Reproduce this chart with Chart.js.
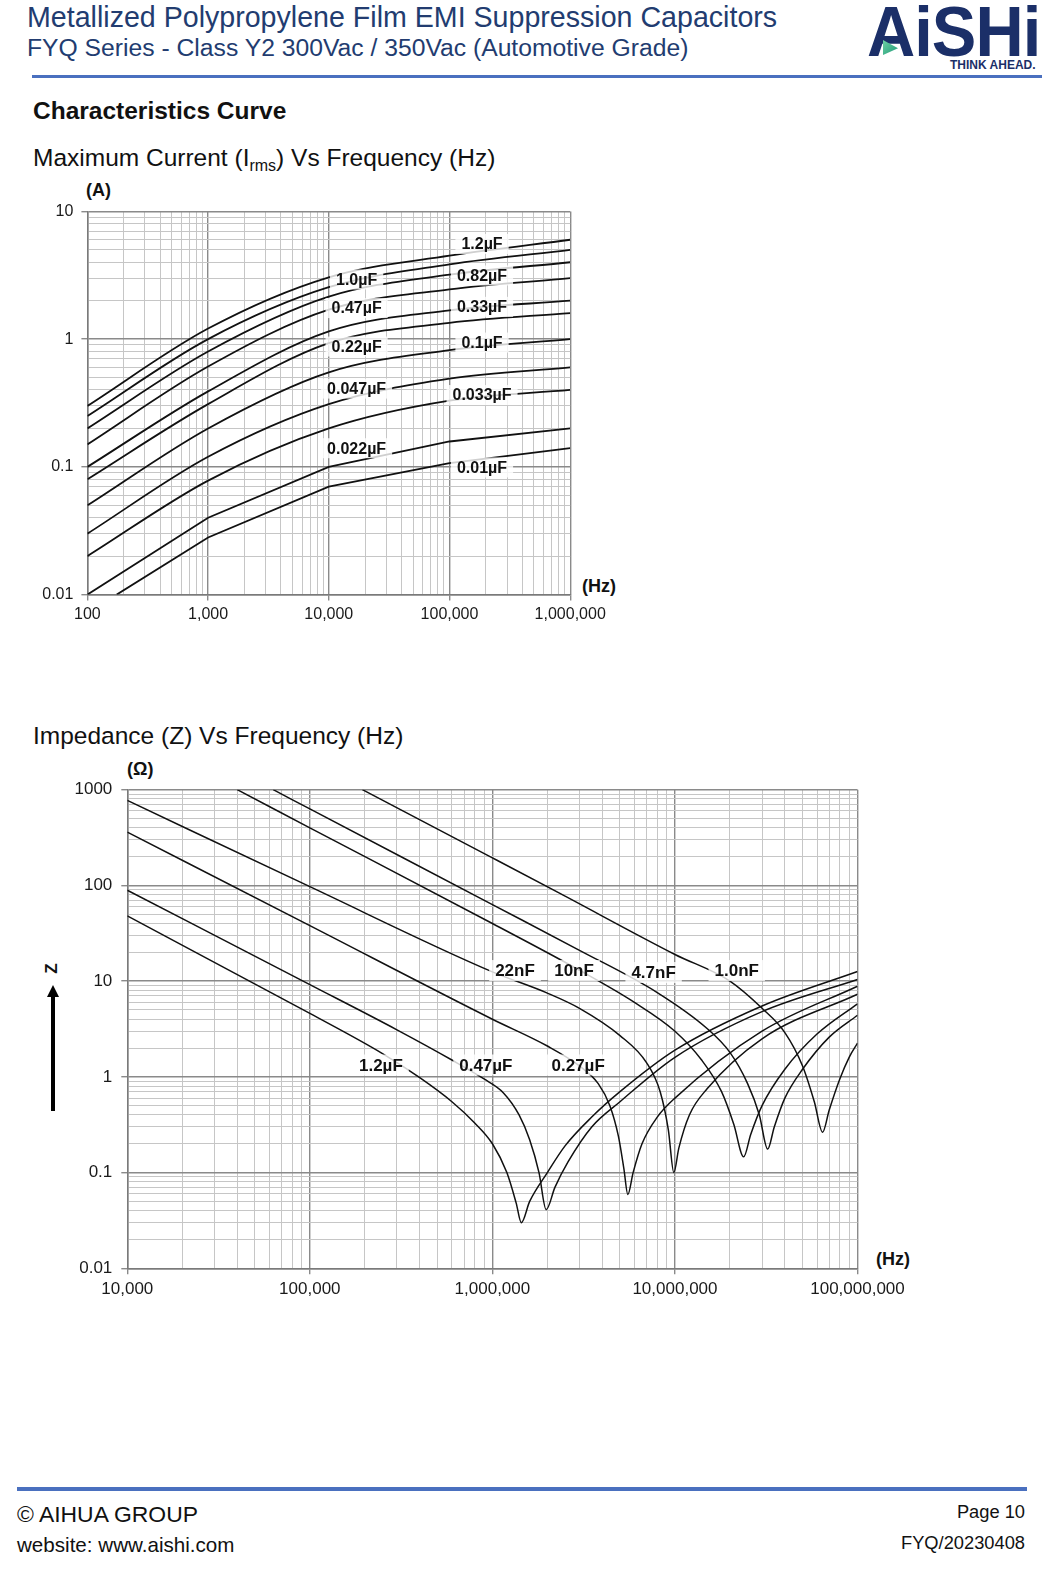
<!DOCTYPE html>
<html>
<head>
<meta charset="utf-8">
<script src="https://cdn.jsdelivr.net/npm/chart.js@4.4.1/dist/chart.umd.min.js"></script>
<style>
  html, body { margin: 0; padding: 0; background: #fff; }
  body { width: 1060px; height: 1594px; position: relative; overflow: hidden;
         font-family: "Liberation Sans", Arial, sans-serif; color: #111; }
  .t { position: absolute; white-space: nowrap; line-height: 1; }
  .rule { position: absolute; background: #4a70bf; }
  .chartbox { position: absolute; }
</style>
</head>
<body>

<!-- header -->
<div class="t" style="left:27px; top:3px; font-size:28.6px; color:#223c70;">Metallized Polypropylene Film EMI Suppression Capacitors</div>
<div class="t" style="left:27px; top:36px; font-size:24.7px; color:#223c70;">FYQ Series - Class Y2 300Vac / 350Vac (Automotive Grade)</div>
<div class="t" style="left:867px; top:-4px; font-size:71px; font-weight:bold; color:#1b2f68; transform:scaleX(0.94); transform-origin:left top; letter-spacing:-1px;">AiSHi</div>
<div style="position:absolute; left:883px; top:40px; width:15px; height:15px; background:linear-gradient(135deg,#6fd1a4,#1f9a78); clip-path:polygon(0 0,100% 55%,0 100%);"></div>
<div class="t" style="left:950px; top:59px; font-size:12px; font-weight:bold; color:#1b2f68;">THINK AHEAD.</div>
<div class="rule" style="left:32px; top:75px; width:1010px; height:3px;"></div>

<div class="t" style="left:33px; top:99px; font-size:24.5px; font-weight:bold;">Characteristics Curve</div>
<div class="t" style="left:33px; top:146px; font-size:24.5px;">Maximum Current (I<span style="font-size:16px; position:relative; top:5px;">rms</span>) Vs Frequency (Hz)</div>

<!-- chart 1 -->
<div class="t" style="left:86px; top:181px; font-size:18px; font-weight:bold;">(A)</div>
<div class="t" style="left:582px; top:577px; font-size:18px; font-weight:bold;">(Hz)</div>
<div class="chartbox" style="left:0; top:190px; width:640px; height:440px;"><canvas id="currentChart" width="640" height="440"></canvas></div>

<div class="t" style="left:33px; top:724px; font-size:24.5px;">Impedance (Z) Vs Frequency (Hz)</div>

<!-- chart 2 -->
<div class="t" style="left:127px; top:760px; font-size:18px; font-weight:bold;">(Ω)</div>
<div class="t" style="left:876px; top:1250px; font-size:18px; font-weight:bold;">(Hz)</div>
<div class="t" style="left:46px; top:960px; font-size:17px; font-weight:bold; transform:rotate(-90deg);">Z</div>
<div style="position:absolute; left:47px; top:985px; width:0; height:0; border-left:6px solid transparent; border-right:6px solid transparent; border-bottom:12px solid #000;"></div>
<div style="position:absolute; left:51px; top:995px; width:3.6px; height:116px; background:#000;"></div>
<div class="chartbox" style="left:0; top:760px; width:960px; height:560px;"><canvas id="impedanceChart" width="960" height="560"></canvas></div>

<!-- footer -->
<div class="rule" style="left:17px; top:1487px; width:1010px; height:3.5px;"></div>
<div class="t" style="left:17px; top:1503px; font-size:22.9px;">© AIHUA GROUP</div>
<div class="t" style="left:17px; top:1535px; font-size:20.6px;">website: www.aishi.com</div>
<div class="t" style="right:35px; top:1503px; font-size:18.3px;">Page 10</div>
<div class="t" style="right:35px; top:1534px; font-size:18.3px;">FYQ/20230408</div>

<script>
// ---- Maximum current vs frequency ----
const currentXTicks = [100, 1000, 10000, 100000, 1000000];
const currentXLabels = ['100', '1,000', '10,000', '100,000', '1,000,000'];
const currentYTicks = [0.01, 0.1, 1, 10];
const currentYLabels = ['0.01', '0.1', '1', '10'];

const currentFreq = [100, 1000, 10000, 100000, 1000000];
const currentFreq10n = [175, 1000, 10000, 100000, 1000000];
const current1u2 = [0.30, 1.21, 3.05, 4.5, 6.0];
const current1u0 = [0.25, 1.0, 2.55, 3.85, 5.0];
const current820n = [0.20, 0.80, 2.15, 3.2, 4.0];
const current470n = [0.15, 0.61, 1.70, 2.45, 3.0];
const current330n = [0.10, 0.39, 1.15, 1.68, 2.0];
const current220n = [0.08, 0.31, 0.93, 1.34, 1.6];
const current100n = [0.05, 0.20, 0.55, 0.82, 1.0];
const current47n = [0.03, 0.12, 0.31, 0.49, 0.60];
const current33n = [0.02, 0.078, 0.20, 0.33, 0.40];
const current22n = [0.01, 0.04, 0.10, 0.158, 0.20];
const current10n = [0.01, 0.028, 0.07, 0.107, 0.14];

const currentLabelText = ['1.2µF', '0.82µF', '0.33µF', '0.1µF', '0.033µF', '0.01µF',
                          '1.0µF', '0.47µF', '0.22µF', '0.047µF', '0.022µF'];
const currentLabelFreq = [186000, 186000, 186000, 186000, 186000, 186000,
                          17000, 17000, 17000, 17000, 17000];
const currentLabelAmp = [5.56, 3.15, 1.79, 0.94, 0.365, 0.099,
                         2.93, 1.75, 0.875, 0.41, 0.14];

// ---- Impedance vs frequency ----
const zXTicks = [1e4, 1e5, 1e6, 1e7, 1e8];
const zXLabels = ['10,000', '100,000', '1,000,000', '10,000,000', '100,000,000'];
const zYTicks = [0.01, 0.1, 1, 10, 100, 1000];
const zYLabels = ['0.01', '0.1', '1', '10', '100', '1000'];

const zFreq1u2 = [1e4, 1e5, 2.5e5, 4e5, 6e5, 8e5, 1e6, 1.2e6, 1.35e6, 1.44e6, 1.6e6, 2e6, 2.5e6, 3.5e6, 5e6, 1e7, 3e7, 1e8];
const z1u2 = [48, 4.6, 1.75, 0.98, 0.55, 0.33, 0.2, 0.1, 0.048, 0.03, 0.05, 0.1, 0.19, 0.38, 0.7, 1.9, 5.5, 12.6];
const zFreq470n = [1e4, 1e5, 3e5, 6e5, 9e5, 1.15e6, 1.4e6, 1.6e6, 1.8e6, 1.97e6, 2.2e6, 2.6e6, 3.5e6, 5e6, 1e7, 3e7, 1e8];
const z470n = [89, 9.2, 3.1, 1.5, 0.95, 0.68, 0.4, 0.22, 0.1, 0.041, 0.07, 0.13, 0.3, 0.55, 1.6, 4.8, 10.4];
const zFreq270n = [1e4, 1e5, 1e6, 2e6, 3e6, 3.8e6, 4.4e6, 4.9e6, 5.25e6, 5.52e6, 5.9e6, 6.6e6, 8e6, 1e7, 3e7, 1e8];
const z270n = [360, 38, 4.0, 2.1, 1.3, 0.85, 0.5, 0.24, 0.11, 0.059, 0.1, 0.2, 0.38, 0.6, 3.0, 8.85];
const zFreq22n = [1e4, 1e5, 1e6, 2e6, 3e6, 5e6, 7e6, 8.3e6, 9.2e6, 9.86e6, 1.05e7, 1.2e7, 1.5e7, 3e7, 1e8];
const z22n = [773, 97, 12.5, 7.5, 5.2, 2.7, 1.4, 0.7, 0.28, 0.1, 0.18, 0.4, 0.75, 2.5, 7.3];
const zFreq10n = [4e4, 1e5, 1e6, 3e6, 6e6, 1e7, 1.4e7, 1.8e7, 2.1e7, 2.38e7, 2.6e7, 3e7, 4e7, 6e7, 1e8];
const z10n = [1000, 400, 40, 13, 6, 3, 1.5, 0.7, 0.32, 0.146, 0.25, 0.5, 1.2, 2.8, 5.8];
const zFreq4n7 = [6.3e4, 1e5, 1e6, 3e6, 8e6, 1.5e7, 2e7, 2.5e7, 2.9e7, 3.22e7, 3.5e7, 4e7, 5e7, 7e7, 1e8];
const z4n7 = [1000, 630, 63, 21, 7.6, 3.2, 1.8, 0.85, 0.4, 0.176, 0.3, 0.6, 1.2, 2.6, 4.4];
const zFreq1n0 = [1.94e5, 1e6, 2.33e6, 1e7, 2e7, 3e7, 4e7, 5e7, 5.8e7, 6.44e7, 7e7, 8e7, 9e7, 1e8];
const z1n0 = [1000, 194, 83, 19, 10, 5.2, 2.9, 1.3, 0.55, 0.264, 0.45, 0.95, 1.6, 2.25];

const zLabelText = ['22nF', '10nF', '4.7nF', '1.0nF', '1.2µF', '0.47µF', '0.27µF'];
const zLabelFreq = [1.33e6, 2.8e6, 7.64e6, 2.18e7, 2.45e5, 9.21e5, 2.95e6];
const zLabelAmp = [12.9, 12.9, 12.3, 12.9, 1.33, 1.33, 1.33];

// ---- helpers ----
const MAJOR = '#8a8a8a';
const MINOR = '#c6c6c6';

function gridTicks(decades) {
  const list = [];
  decades.forEach((d, i) => {
    list.push({ value: d, major: true });
    if (i < decades.length - 1) {
      for (let m = 2; m <= 9; m++) list.push({ value: Number((m * d).toPrecision(4)), major: false });
    }
  });
  return list;
}

function points(xs, ys) {
  return xs.map((x, i) => ({ x: x, y: ys[i] }));
}

function logAxis(min, max, decades, labels, fontSize, size, isX, pad) {
  return {
    type: 'logarithmic',
    min: min,
    max: max,
    afterBuildTicks: (axis) => { axis.ticks = gridTicks(decades); },
    afterFit: (axis) => { if (isX) axis.height = size; else axis.width = size; },
    ticks: {
      autoSkip: false,
      maxRotation: 0,
      minRotation: 0,
      padding: pad,
      color: '#1a1a1a',
      font: { size: fontSize, family: '"Liberation Sans", Arial, sans-serif' },
      callback: (v) => {
        const i = decades.indexOf(v);
        return i >= 0 ? labels[i] : '';
      }
    },
    grid: {
      color: (c) => (c.tick && c.tick.major ? MAJOR : MINOR),
      lineWidth: (c) => (c.tick && c.tick.major ? 1.4 : 1),
      tickColor: (c) => (c.tick && c.tick.major ? MAJOR : 'rgba(0,0,0,0)'),
      tickLength: 6
    },
    border: { display: true, color: '#7a7a7a', width: 1.5 }
  };
}

const curveLabels = {
  id: 'curveLabels',
  afterDatasetsDraw(chart, args, opts) {
    const { ctx } = chart;
    const xs = chart.scales.x, ys = chart.scales.y;
    ctx.save();
    ctx.font = 'bold ' + opts.size + 'px "Liberation Sans", Arial, sans-serif';
    ctx.textAlign = 'center';
    ctx.textBaseline = 'middle';
    opts.texts.forEach((t, i) => {
      const px = xs.getPixelForValue(opts.xs[i]);
      const py = ys.getPixelForValue(opts.ys[i]);
      const w = ctx.measureText(t).width + 12;
      const h = opts.size + 4;
      ctx.fillStyle = 'rgba(255,255,255,0.8)';
      ctx.fillRect(px - w / 2, py - h / 2, w, h);
      ctx.fillStyle = '#111';
      ctx.fillText(t, px, py + 1);
    });
    ctx.restore();
  }
};

function curve(data, smooth, width) {
  return {
    data: data,
    borderColor: '#111',
    borderWidth: width,
    pointRadius: 0,
    fill: false,
    tension: smooth ? 0.4 : 0,
    cubicInterpolationMode: smooth ? 'monotone' : 'default'
  };
}

Chart.defaults.font.family = '"Liberation Sans", Arial, sans-serif';

new Chart(document.getElementById('currentChart'), {
  type: 'line',
  data: {
    datasets: [
      curve(points(currentFreq, current1u2), true, 1.8),
      curve(points(currentFreq, current1u0), true, 1.8),
      curve(points(currentFreq, current820n), true, 1.8),
      curve(points(currentFreq, current470n), true, 1.8),
      curve(points(currentFreq, current330n), true, 1.8),
      curve(points(currentFreq, current220n), true, 1.8),
      curve(points(currentFreq, current100n), true, 1.8),
      curve(points(currentFreq, current47n), true, 1.8),
      curve(points(currentFreq, current33n), true, 1.8),
      curve(points(currentFreq, current22n), false, 1.8),
      curve(points(currentFreq10n, current10n), false, 1.8)
    ]
  },
  options: {
    responsive: false,
    animation: false,
    devicePixelRatio: 1,
    events: [],
    layout: { padding: { left: 0, top: 21.4, right: 69.8, bottom: 5.4 } },
    scales: {
      x: logAxis(100, 1000000, currentXTicks, currentXLabels, 16, 30, true, 4),
      y: logAxis(0.01, 10, currentYTicks, currentYLabels, 16, 87.4, false, 8)
    },
    plugins: {
      legend: { display: false },
      tooltip: { enabled: false },
      curveLabels: { texts: currentLabelText, xs: currentLabelFreq, ys: currentLabelAmp, size: 16 }
    }
  },
  plugins: [curveLabels]
});

new Chart(document.getElementById('impedanceChart'), {
  type: 'line',
  data: {
    datasets: [
      curve(points(zFreq1u2, z1u2), true, 1.5),
      curve(points(zFreq470n, z470n), true, 1.5),
      curve(points(zFreq270n, z270n), true, 1.5),
      curve(points(zFreq22n, z22n), true, 1.5),
      curve(points(zFreq10n, z10n), true, 1.5),
      curve(points(zFreq4n7, z4n7), true, 1.5),
      curve(points(zFreq1n0, z1n0), true, 1.5)
    ]
  },
  options: {
    responsive: false,
    animation: false,
    devicePixelRatio: 1,
    events: [],
    layout: { padding: { left: 0, top: 29.7, right: 102.5, bottom: 19.7 } },
    scales: {
      x: logAxis(1e4, 1e8, zXTicks, zXLabels, 17, 32, true, 5),
      y: logAxis(0.01, 1000, zYTicks, zYLabels, 17, 127.3, false, 9)
    },
    plugins: {
      legend: { display: false },
      tooltip: { enabled: false },
      curveLabels: { texts: zLabelText, xs: zLabelFreq, ys: zLabelAmp, size: 17 }
    }
  },
  plugins: [curveLabels]
});
</script>
</body>
</html>
